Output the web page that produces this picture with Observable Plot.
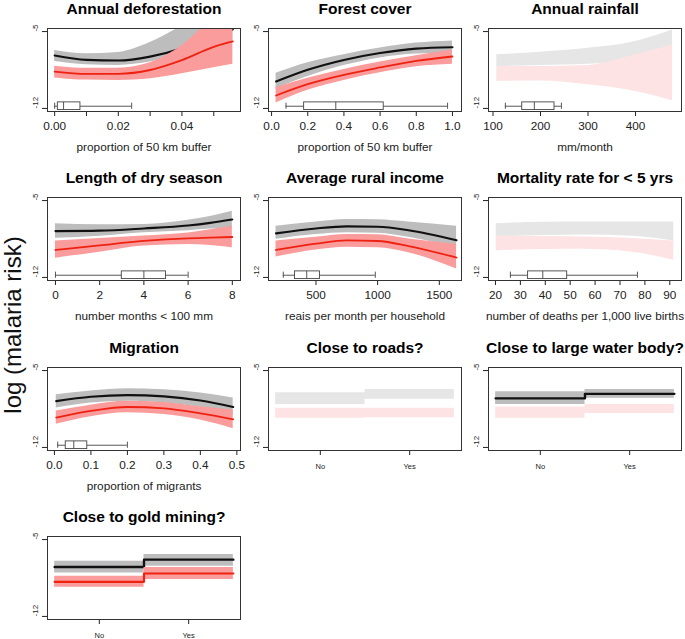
<!DOCTYPE html>
<html><head><meta charset="utf-8">
<script src="https://cdn.jsdelivr.net/npm/d3@7"></script>
<script src="https://cdn.jsdelivr.net/npm/@observablehq/plot@0.6"></script>
<style>
body{margin:0;background:#fff;overflow:hidden;}
#wrap{position:relative;width:685px;height:639px;overflow:hidden;background:#fff;font-family:"Liberation Sans",Arial,sans-serif;}
#wrap svg{position:absolute;overflow:visible;background:transparent;}
#ylab{position:absolute;left:13px;top:325px;transform:translate(-50%,-50%) rotate(-90deg);font-size:24px;white-space:nowrap;color:#111;}
</style></head><body><div id="wrap"><div id="ylab">log (malaria risk)</div></div>
<script>
// ---------- text ----------
const titles = ["Annual deforestation","Forest cover","Annual rainfall","Length of dry season","Average rural income","Mortality rate for < 5 yrs","Migration","Close to roads?","Close to large water body?","Close to gold mining?"];
const xLabels = ["proportion of 50 km buffer","proportion of 50 km buffer","mm/month","number months < 100 mm","reais per month per household","number of deaths per 1,000 live births","proportion of migrants","","",""];
const categories = ["No","Yes"];
const yTicks = [-5, -12];

// ---------- ticks ----------
const defoTicks = [0,0.01,0.02,0.03,0.04,0.05];
const defoTickLabels = ["0.00","","0.02","","0.04",""];
const forestTicks = [0,0.2,0.4,0.6,0.8,1];
const forestTickLabels = ["0.0","0.2","0.4","0.6","0.8","1.0"];
const rainTicks = [100,200,300,400];
const dryTicks = [0,2,4,6,8];
const incomeTicks = [500,1000,1500];
const mortTicks = [20,30,40,50,60,70,80,90];
const migrTicks = [0,0.1,0.2,0.3,0.4,0.5];
const migrTickLabels = ["0.0","0.1","0.2","0.3","0.4","0.5"];

// ---------- Annual deforestation ----------
const defoX      = [0, 0.01, 0.02, 0.03, 0.04, 0.05, 0.056];
const defoBlack  = [-7.18, -7.58, -7.64, -7.28, -6.52, -5.3, -4.8];
const defoGrayHi = [-6.72, -7.02, -6.9, -6.0, -4.5, -3.0, -2.5];
const defoGrayLo = [-7.72, -8.02, -8.08, -7.78, -7.05, -6.2, -5.8];
const defoRed    = [-8.64, -8.85, -8.85, -8.5, -7.6, -6.4, -5.9];
const defoRedHi  = [-8.15, -8.35, -8.33, -7.85, -6.3, -3.8, -3.0];
const defoRedLo  = [-9.22, -9.42, -9.45, -9.3, -8.85, -8.3, -7.98];
const defoBox    = [0, 0.001, 0.0028, 0.0081, 0.0242];

// ---------- Forest cover ----------
const forestX      = [0.025, 0.2, 0.4, 0.6, 0.8, 1.0];
const forestBlack  = [-9.55, -8.48, -7.58, -6.95, -6.55, -6.43];
const forestGrayHi = [-8.8, -7.85, -7.1, -6.5, -6.05, -5.85];
const forestGrayLo = [-10.2, -9.1, -8.1, -7.4, -7.05, -6.97];
const forestRed    = [-10.82, -9.79, -8.94, -8.27, -7.67, -7.27];
const forestRedHi  = [-10.1, -9.25, -8.45, -7.78, -7.2, -6.67];
const forestRedLo  = [-11.5, -10.35, -9.45, -8.75, -8.2, -7.97];
const forestBox    = [0.08, 0.18, 0.355, 0.62, 0.973];

// ---------- Annual rainfall ----------
const rainX      = [108, 200, 300, 400, 478];
const rainGrayHi = [-7.12, -6.88, -6.52, -5.9, -4.85];
const rainGrayLo = [-8.18, -8.09, -7.97, -7.58, -6.27];
const rainRedHi  = [-8.18, -8.18, -8.09, -7.12, -6.2];
const rainRedLo  = [-9.55, -9.5, -9.85, -10.45, -11.3];
const rainBox    = [126, 161.5, 187, 229.5, 244];

// ---------- Length of dry season ----------
const dryX      = [0, 2, 4, 6, 7, 8];
const dryBlack  = [-7.78, -7.74, -7.54, -7.27, -7.03, -6.72];
const dryGrayHi = [-7.11, -7.2, -7.17, -6.8, -6.45, -5.97];
const dryGrayLo = [-8.44, -8.25, -7.93, -7.75, -7.6, -7.54];
const dryRed    = [-9.5, -9.08, -8.68, -8.44, -8.38, -8.32];
const dryRedHi  = [-8.68, -8.45, -8.23, -7.95, -7.65, -7.33];
const dryRedLo  = [-10.25, -9.7, -9.14, -9.0, -9.1, -9.29];
const dryBox    = [0, 3, 4, 5, 6];

// ---------- Average rural income ----------
const incomeX      = [176, 500, 750, 1000, 1250, 1640];
const incomeBlack  = [-7.99, -7.54, -7.35, -7.38, -7.7, -8.62];
const incomeGrayHi = [-7.33, -6.95, -6.72, -6.75, -6.95, -7.33];
const incomeGrayLo = [-8.53, -8.1, -7.93, -7.98, -8.35, -9.29];
const incomeRed    = [-9.5, -8.93, -8.62, -8.68, -9.14, -10.19];
const incomeRedHi  = [-8.68, -8.35, -8.08, -8.12, -8.5, -8.98];
const incomeRedLo  = [-10.13, -9.5, -9.25, -9.3, -9.75, -11.24];
const incomeBox    = [235, 330, 425, 532, 981];

// ---------- Mortality rate < 5 ----------
const mortX      = [20.3, 40, 55, 75, 91.6];
const mortGrayHi = [-7.11, -6.98, -6.96, -6.96, -6.96];
const mortGrayLo = [-8.32, -8.18, -8.14, -8.25, -8.68];
const mortRedHi  = [-8.23, -8.28, -8.32, -8.45, -8.68];
const mortRedLo  = [-9.59, -9.45, -9.44, -9.7, -10.43];
const mortBox    = [26, 33.1, 39, 48.8, 77];

// ---------- Migration ----------
const migrX      = [0.005, 0.1, 0.2, 0.3, 0.4, 0.49];
const migrBlack  = [-7.78, -7.39, -7.24, -7.35, -7.72, -8.32];
const migrGrayHi = [-7.2, -6.85, -6.65, -6.75, -7.05, -7.5];
const migrGrayLo = [-8.4, -7.95, -7.8, -7.95, -8.35, -9.1];
const migrRed    = [-9.29, -8.68, -8.32, -8.44, -8.9, -9.44];
const migrRedHi  = [-8.68, -8.15, -7.8, -7.9, -8.3, -8.6];
const migrRedLo  = [-9.89, -9.2, -8.85, -9.0, -9.5, -10.3];
const migrBox    = [0.009, 0.031, 0.053, 0.09, 0.2];

// ---------- Close to roads? (No, Yes) ----------
const roadsGrayHi = [-7.03, -6.72];
const roadsGrayLo = [-8.08, -7.62];
const roadsRedHi  = [-8.44, -8.44];
const roadsRedLo  = [-9.34, -9.3];

// ---------- Close to large water body? ----------
const waterBlack  = [-7.53, -7.12];
const waterGrayHi = [-6.93, -6.72];
const waterGrayLo = [-8.08, -7.53];
const waterRedHi  = [-8.32, -8.08];
const waterRedLo  = [-9.34, -8.9];

// ---------- Close to gold mining? ----------
const goldBlack  = [-7.5, -6.83];
const goldGrayHi = [-6.98, -6.35];
const goldGrayLo = [-8.04, -7.43];
const goldRed    = [-8.85, -8.09];
const goldRedHi  = [-8.33, -7.55];
const goldRedLo  = [-9.35, -8.63];

// ---------- styling ----------
const GRAY = "#bdbdbd", GRAY_PALE = "#e6e6e6", RED_BAND = "#fa9c9c", RED_PALE = "#fde3e3", RED_LINE = "#ee2211";
const FONT = "'Liberation Sans', Arial, sans-serif";
const colLeft = [47, 267.5, 488], rowTop = [27.5, 197, 366.5, 536];
const FW = 193, FH = 83, ML = 45, MR = 2, MT = 28, MB = 42;
const BOX_Y = -11.8;

const catTicks = categories.map((c, i) => i + 1);
const specs = [
  {i:0, col:0, row:0, domain:[-0.00225,0.0584], ticks:defoTicks, labels:defoTickLabels, xs:defoX, black:defoBlack, gHi:defoGrayHi, gLo:defoGrayLo, red:defoRed, rHi:defoRedHi, rLo:defoRedLo, box:defoBox, sg:true, sr:true},
  {i:1, col:1, row:0, domain:[-0.017,1.05], ticks:forestTicks, labels:forestTickLabels, xs:forestX, black:forestBlack, gHi:forestGrayHi, gLo:forestGrayLo, red:forestRed, rHi:forestRedHi, rLo:forestRedLo, box:forestBox, sg:true, sr:true},
  {i:2, col:2, row:0, domain:[90.5,496.8], ticks:rainTicks, labels:rainTicks.map(String), xs:rainX, gHi:rainGrayHi, gLo:rainGrayLo, rHi:rainRedHi, rLo:rainRedLo, box:rainBox, sg:false, sr:false},
  {i:3, col:0, row:1, domain:[-0.36,8.37], ticks:dryTicks, labels:dryTicks.map(String), xs:dryX, black:dryBlack, gHi:dryGrayHi, gLo:dryGrayLo, red:dryRed, rHi:dryRedHi, rLo:dryRedLo, box:dryBox, sg:true, sr:true},
  {i:4, col:1, row:1, domain:[115,1680], ticks:incomeTicks, labels:incomeTicks.map(String), xs:incomeX, black:incomeBlack, gHi:incomeGrayHi, gLo:incomeGrayLo, red:incomeRed, rHi:incomeRedHi, rLo:incomeRedLo, box:incomeBox, sg:true, sr:true},
  {i:5, col:2, row:1, domain:[17.2,94.7], ticks:mortTicks, labels:mortTicks.map(String), xs:mortX, gHi:mortGrayHi, gLo:mortGrayLo, rHi:mortRedHi, rLo:mortRedLo, box:mortBox, sg:false, sr:false},
  {i:6, col:0, row:2, domain:[-0.019,0.51], ticks:migrTicks, labels:migrTickLabels, xs:migrX, black:migrBlack, gHi:migrGrayHi, gLo:migrGrayLo, red:migrRed, rHi:migrRedHi, rLo:migrRedLo, box:migrBox, sg:true, sr:true},
  {i:7, col:1, row:2, domain:[0.42,2.58], ticks:catTicks, labels:categories, gHi:roadsGrayHi, gLo:roadsGrayLo, rHi:roadsRedHi, rLo:roadsRedLo, sg:false, sr:false},
  {i:8, col:2, row:2, domain:[0.42,2.58], ticks:catTicks, labels:categories, black:waterBlack, gHi:waterGrayHi, gLo:waterGrayLo, rHi:waterRedHi, rLo:waterRedLo, sg:true, sr:false},
  {i:9, col:0, row:3, domain:[0.42,2.58], ticks:catTicks, labels:categories, black:goldBlack, gHi:goldGrayHi, gLo:goldGrayLo, red:goldRed, rHi:goldRedHi, rLo:goldRedLo, sg:true, sr:true}
];

const wrap = document.getElementById("wrap");
for (const s of specs) {
  const cat = !s.xs;
  const curve = cat ? "step-after" : "monotone-x";
  const xs = cat ? [0, 1, 2].map(k => k + 0.5) : s.xs;
  const pick = arr => cat ? [arr[0], arr[1], arr[1]] : arr;
  const band = (lo, hi) => xs.map((x, k) => ({x, lo: pick(lo)[k], hi: pick(hi)[k]}));
  const line = (m) => xs.map((x, k) => ({x, y: pick(m)[k]}));

  const marks = [
    Plot.areaY(band(s.gLo, s.gHi), {x: "x", y1: "lo", y2: "hi", fill: s.sg ? GRAY : GRAY_PALE, curve, clip: true})
  ];
  if (s.black) marks.push(Plot.line(line(s.black), {x: "x", y: "y", stroke: "#111", strokeWidth: cat ? 2.4 : 2.1, curve, clip: true}));
  marks.push(Plot.areaY(band(s.rLo, s.rHi), {x: "x", y1: "lo", y2: "hi", fill: s.sr ? RED_BAND : RED_PALE, curve, clip: true}));
  if (s.red) marks.push(Plot.line(line(s.red), {x: "x", y: "y", stroke: RED_LINE, strokeWidth: cat ? 2.2 : 1.8, curve, clip: true}));
  if (s.box) {
    const [mn, q1, md, q3, mx] = s.box;
    const st = {stroke: "#444", strokeWidth: 0.9};
    marks.push(Plot.ruleY([{a: mn, b: q1}, {a: q3, b: mx}], {x1: "a", x2: "b", y: () => BOX_Y, ...st}));
    marks.push(Plot.ruleX([mn, mx], {x: d => d, y1: () => BOX_Y - 0.28, y2: () => BOX_Y + 0.28, ...st}));
    marks.push(Plot.rect([{a: q1, b: q3}], {x1: "a", x2: "b", y1: () => BOX_Y - 0.35, y2: () => BOX_Y + 0.35, fill: "none", ...st}));
    marks.push(Plot.ruleX([md], {x: d => d, y1: () => BOX_Y - 0.35, y2: () => BOX_Y + 0.35, ...st}));
  }
  marks.push(Plot.frame({stroke: "#333", strokeWidth: 1}));
  marks.push(Plot.text([titles[s.i]], {text: d => d, frameAnchor: "top", lineAnchor: "bottom", dy: -14.5, fontSize: 15.5, fontWeight: "bold", fill: "#000"}));
  if (xLabels[s.i]) marks.push(Plot.text([xLabels[s.i]], {text: d => d, frameAnchor: "bottom", lineAnchor: "middle", dy: 35.5, fontSize: 11.8, fill: "#222"}));
  marks.push(Plot.text(yTicks, {y: d => d, text: d => String(d), frameAnchor: "left", dx: -12, rotate: -90, fontSize: 8, fill: "#222"}));

  const fmt = d => {
    const k = s.ticks.findIndex(t => Math.abs(t - d) < 1e-9);
    return k >= 0 ? s.labels[k] : "";
  };
  const svg = Plot.plot({
    width: ML + FW + MR, height: MT + FH + MB,
    marginLeft: ML, marginRight: MR, marginTop: MT, marginBottom: MB,
    style: {background: "transparent", overflow: "visible", fontFamily: FONT, fontSize: cat ? "7.5px" : "11.8px", color: "#222"},
    x: {domain: s.domain, ticks: s.ticks, tickFormat: fmt, tickSize: 5, tickPadding: cat ? 8 : 5.5, label: null},
    y: {domain: [-12.28, -4.72], ticks: yTicks, tickSize: 5, tickFormat: () => "", label: null},
    marks
  });
  svg.style.left = (colLeft[s.col] - ML) + "px";
  svg.style.top = (rowTop[s.row] - MT) + "px";
  wrap.appendChild(svg);
}
</script>
</body></html>
